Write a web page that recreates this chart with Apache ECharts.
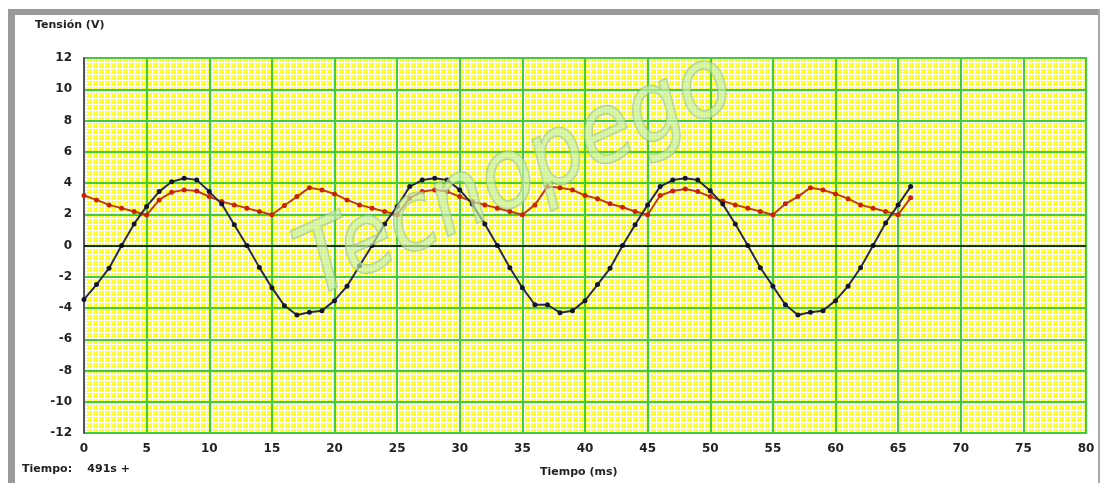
<!DOCTYPE html>
<html>
<head>
<meta charset="utf-8">
<script src="https://cdn.jsdelivr.net/npm/echarts@6/dist/echarts.min.js"></script>
<style>
  html, body { margin: 0; padding: 0; background: #fff; }
  #chart { width: 1103px; height: 483px; }
</style>
</head>
<body>
<div id="chart"></div>
<script>
// tiempo en ms
const tiempo = [0, 1, 2, 3, 4, 5, 6, 7, 8, 9, 10, 11, 12, 13, 14, 15, 16, 17, 18, 19,
  20, 21, 22, 23, 24, 25, 26, 27, 28, 29, 30, 31, 32, 33, 34, 35, 36, 37, 38, 39,
  40, 41, 42, 43, 44, 45, 46, 47, 48, 49, 50, 51, 52, 53, 54, 55, 56, 57, 58, 59,
  60, 61, 62, 63, 64, 65, 66]

// tension de entrada (azul)
const entrada = [-3.45, -2.5, -1.45, 0, 1.38, 2.5, 3.45, 4.08, 4.3, 4.2,
  3.45, 2.65, 1.33, 0, -1.4, -2.7, -3.85, -4.45, -4.27, -4.17,
  -3.53, -2.6, -1.3, 0, 1.38, 2.5, 3.77, 4.19, 4.3, 4.19,
  3.56, 2.65, 1.38, 0, -1.42, -2.7, -3.79, -3.79, -4.3, -4.17,
  -3.53, -2.5, -1.46, 0, 1.33, 2.6, 3.77, 4.19, 4.3, 4.19,
  3.5, 2.65, 1.38, 0, -1.42, -2.6, -3.79, -4.45, -4.27, -4.17,
  -3.53, -2.6, -1.42, 0, 1.44, 2.6, 3.77]

// tension de salida (rojo)
const salida = [3.2, 2.92, 2.6, 2.39, 2.18, 1.95, 2.92, 3.41, 3.56, 3.49,
  3.13, 2.81, 2.6, 2.39, 2.18, 1.97, 2.56, 3.13, 3.7, 3.56,
  3.3, 2.92, 2.6, 2.39, 2.18, 1.97, 3.03, 3.45, 3.56, 3.45,
  3.13, 2.81, 2.6, 2.39, 2.18, 1.97, 2.6, 3.77, 3.7, 3.56,
  3.2, 3.0, 2.67, 2.45, 2.18, 1.97, 3.2, 3.49, 3.62, 3.45,
  3.13, 2.85, 2.6, 2.39, 2.18, 1.97, 2.67, 3.13, 3.7, 3.56,
  3.3, 3.0, 2.6, 2.39, 2.18, 1.97, 3.05]

const ticksX = [0, 5, 10, 15, 20, 25, 30, 35, 40, 45, 50, 55, 60, 65, 70, 75, 80]
const ticksY = [-12, -10, -8, -6, -4, -2, 0, 2, 4, 6, 8, 10, 12]

// fondo amarillo con malla blanca
const malla = document.createElement('canvas')
malla.width = 3
malla.height = 3
const ctx = malla.getContext('2d')
ctx.fillStyle = '#ffff10'
ctx.fillRect(0, 0, 3, 3)
ctx.fillStyle = '#ffffff'
ctx.fillRect(2, 0, 1, 3)
ctx.fillRect(0, 2, 3, 1)

const chart = echarts.init(document.getElementById('chart'))

const labelFont = {
  color: '#222',
  fontFamily: 'DejaVu Sans',
  fontWeight: 'bold',
  fontSize: 12
}

chart.setOption({
  animation: false,
  backgroundColor: '#fff',
  grid: {
    left: 84, top: 58, right: 17, bottom: 50,
    show: true,
    backgroundColor: {image: malla, repeat: 'repeat'},
    borderColor: '#44cc44',
    borderWidth: 2
  },
  xAxis: {
    type: 'value',
    min: ticksX[0],
    max: ticksX[ticksX.length - 1],
    interval: 5,
    axisLine: {show: false},
    axisTick: {show: false},
    axisLabel: Object.assign({margin: 10}, labelFont),
    splitLine: {show: true, lineStyle: {color: '#3fcc3f', width: 2}}
  },
  yAxis: {
    type: 'value',
    min: ticksY[0],
    max: ticksY[ticksY.length - 1],
    interval: 2,
    axisLine: {show: true, onZero: false, lineStyle: {color: '#555', width: 2}},
    axisTick: {show: false},
    axisLabel: Object.assign({margin: 12}, labelFont),
    splitLine: {show: true, lineStyle: {color: '#3fcc3f', width: 2}}
  },
  graphic: [
    {type: 'rect', shape: {x: 8, y: 9, width: 1092, height: 6}, style: {fill: '#9a9a9a'}},
    {type: 'rect', shape: {x: 8, y: 9, width: 7, height: 474}, style: {fill: '#9a9a9a'}},
    {type: 'rect', shape: {x: 1098, y: 9, width: 2, height: 474}, style: {fill: '#a8a8a8'}},
    {type: 'text', left: 35, top: 20, style: {text: 'Tensión (V)', fill: '#222', font: 'bold 11px "DejaVu Sans"'}},
    {type: 'text', left: 22, top: 464, style: {text: 'Tiempo:    491s +', fill: '#222', font: 'bold 11px "DejaVu Sans"'}},
    {type: 'text', left: 540, top: 467, style: {text: 'Tiempo (ms)', fill: '#222', font: 'bold 11px "DejaVu Sans"'}},
    {
      type: 'text', x: 325, y: 318, rotation: 0.43, scaleX: 0.9, z: 10,
      style: {
        text: 'Tecnopego',
        fill: 'rgba(195, 238, 175, 0.65)',
        stroke: 'rgba(140, 175, 120, 0.6)',
        lineWidth: 2,
        font: 'italic 96px "DejaVu Sans"',
        textVerticalAlign: 'bottom'
      }
    }
  ],
  series: [
    {
      name: 'Entrada',
      type: 'line',
      data: tiempo.map((t, i) => [t, entrada[i]]),
      symbol: 'circle',
      symbolSize: 5,
      lineStyle: {color: '#2a2a48', width: 2},
      itemStyle: {color: '#141430'},
      z: 4,
      markLine: {
        silent: true,
        symbol: 'none',
        label: {show: false},
        lineStyle: {color: '#000', width: 1.5, type: 'solid'},
        data: [{yAxis: 0}]
      }
    },
    {
      name: 'Salida',
      type: 'line',
      data: tiempo.map((t, i) => [t, salida[i]]),
      symbol: 'circle',
      symbolSize: 5,
      lineStyle: {color: '#c03c10', width: 2},
      itemStyle: {color: '#cc2200'},
      z: 3
    }
  ]
})
</script>
</body>
</html>
